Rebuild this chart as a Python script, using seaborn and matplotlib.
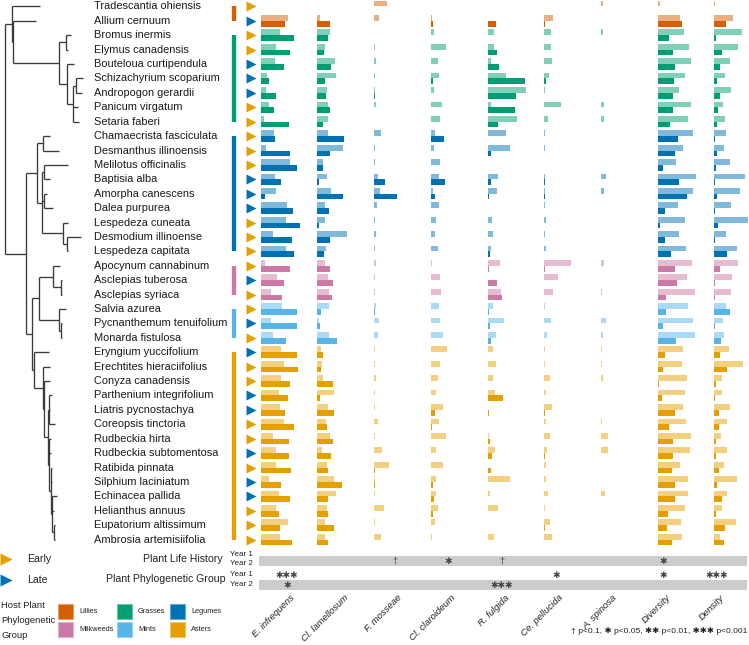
import numpy as np
import pandas as pd
import matplotlib.pyplot as plt
from matplotlib.patches import Rectangle
import seaborn as sns

# Host plants, top to bottom
species = [
    "Tradescantia ohiensis", "Allium cernuum", "Bromus inermis", "Elymus canadensis",
    "Bouteloua curtipendula", "Schizachyrium scoparium", "Andropogon gerardii",
    "Panicum virgatum", "Setaria faberi", "Chamaecrista fasciculata",
    "Desmanthus illinoensis", "Melilotus officinalis", "Baptisia alba",
    "Amorpha canescens", "Dalea purpurea", "Lespedeza cuneata", "Desmodium illinoense",
    "Lespedeza capitata", "Apocynum cannabinum", "Asclepias tuberosa",
    "Asclepias syriaca", "Salvia azurea", "Pycnanthemum tenuifolium",
    "Monarda fistulosa", "Eryngium yuccifolium", "Erechtites hieraciifolius",
    "Conyza canadensis", "Parthenium integrifolium", "Liatris pycnostachya",
    "Coreopsis tinctoria", "Rudbeckia hirta", "Rudbeckia subtomentosa",
    "Ratibida pinnata", "Silphium laciniatum", "Echinacea pallida",
    "Helianthus annuus", "Eupatorium altissimum", "Ambrosia artemisiifolia",
]
plant_group = (["Lillies"] * 2 + ["Grasses"] * 7 + ["Legumes"] * 9
               + ["Milkweeds"] * 3 + ["Mints"] * 3 + ["Asters"] * 14)
life_history = ["Early", "Late", "Early", "Early", "Late", "Late", "Late", "Early",
                "Early", "Early", "Early", "Early", "Late", "Late", "Late", "Early",
                "Early", "Early", "Early", "Late", "Early", "Early", "Late", "Early",
                "Late", "Early", "Early", "Late", "Late", "Early", "Early", "Late",
                "Early", "Late", "Late", "Early", "Early", "Early"]

columns = ["E. infrequens", "Cl. lamellosum", "F. mosseae", "Cl. claroideum",
           "R. fulgida", "Ce. pellucida", "A. spinosa", "Diversity", "Density"]

nan = np.nan
# relative values (Year 1 / Year 2) per host plant
e_infrequens_y1 = [0, 27, 19, 15.3, 14, 6, 5.7, 8.3, 3, 13.3, 5.7, 29, 14.7, 15.3, 26.3, 25.7, 12.3, 25, 4.7,
                   16.7, 10, 21, 10.7, 12.3, 20.7, 23, 20.3, 18, 19.3, 23.7, 12, 15.7, 15, 8, 18, 15, 27, 19]
e_infrequens_y2 = [nan, 24.3, 33, 29, 23, 8, 15.7, 13.7, 28.3, 14.3, 29, 36, 20.3, 4.3, 32.7, 39, 31.7, 33, 29.7,
                   23.7, 21, 36.3, 36.3, 25, 36, 37.7, 29.3, 27.7, 24.7, 33, 28, 28, 30, 20.7, 29.7, 18, 19, 31.7]
cl_lamellosum_y1 = [0, 2.7, 12.3, 7.7, 17.3, 18.7, 9.3, 10.7, 10.3, 10.7, 25.3, 5.7, 9.3, 13.7, 8, 7.3, 29.3, 8.3, 7.3,
                    11, 11.3, 11.7, 1.3, 11.3, 3.7, 5, 6, 17, 10.7, 8.7, 12.3, 5, 9.3, 17, 18.7, 9.7, 8, 7.3]
cl_lamellosum_y2 = [nan, 12.3, 10.3, 7, 14, 7.3, 8.3, 12.7, 6, 26.7, 12.3, 5.3, 1.3, 25.7, 11.3, 1.3, 12.7, 7, 12.3,
                    16, 14.3, 3.3, 3, 19.3, 5.3, 3.3, 16, 3, 16.7, 9.3, 16, 13.7, 10.7, 24.7, 10.3, 10.3, 16.3, 10.3]
f_mosseae_y1 = [13, 5, 0.3, 1.3, 2.3, 1, 0.5, 1.7, 0.3, 6.7, 0.7, 1, 3.7, 6.3, 2.7, 0.7, 1.7, 1.3, 1.7,
                0.7, 0.7, 1.7, 5.3, 4.3, 1.3, 0.7, 1.7, 0.5, 0.5, 4, 0.7, 8, 14.7, 1.3, 0.5, 9.7, 0.5, 6.7]
f_mosseae_y2 = [nan, 0, 0, 0, 0, 0, 1, 0, 0, 0, 0, 0, 11.3, 23, 0, 0, 0, 0, 0,
                0, 0, 0.5, 0, 0, 0, 0, 0, 0, 0, 0, 0, 0, 0.7, 0.5, 0, 0, 0, 0.3]
cl_claroideum_y1 = [0, 1, 3, 15.3, 7.3, 8, 3, 11, 9, 3.7, 2.7, 8.7, 8, 2, 8.3, 5.3, 3.7, 6.7, 1.3,
                    9, 9.7, 8, 8.7, 11.7, 16.3, 9, 7, 5, 11.7, 8.3, 14.7, 4.7, 11.7, 4.7, 4.7, 6.7, 3.7, 1]
cl_claroideum_y2 = [nan, 2.3, 0, 0, 0, 2, 0, 0, 0, 13, 0, 0, 13.7, 4, 0, 0, 0, 0.5, 0.5,
                    0, 0, 0, 0, 0, 0.5, 0, 0, 0, 4.3, 0.7, 0, 0, 0, 2, 2.7, 1.7, 0, 0.3]
r_fulgida_y1 = [0, 0.5, 6.5, 6.2, 3.7, 18.7, 38.7, 3.5, 29.3, 18.3, 22, 0, 10.3, 9.3, 0.3, 4.7, 5.2, 3.3, 12.3,
                0, 13.7, 5.7, 16, 8, 5, 8.7, 5.2, 7.7, 0.7, 0.3, 1, 7.7, 0, 22.7, 2, 10, 0, 6.8]
r_fulgida_y2 = [nan, 8.3, 0, 9.5, 11.7, 37.3, 28, 27.7, 10.7, 0, 3.5, 0, 3.2, 1, 0, 0, 0, 2.7, 1.7,
                9.2, 14.7, 1.3, 2.3, 3.3, 0, 0, 0, 15.3, 1, 0, 2.3, 4.3, 3.5, 0.7, 0.7, 0, 0, 0.7]
ce_pellucida_y1 = [0, 8.7, 7, 6.3, 8, 4.7, 1, 17, 3.7, 0.3, 1, 0, 1, 1, 0.3, 2, 0.7, 1.3, 26.7,
                   14, 8.3, 0.7, 7, 2.7, 1, 1, 5.3, 1.3, 7.7, 1.3, 5.7, 2.7, 1.3, 1.3, 3.7, 0.7, 5.7, 8]
ce_pellucida_y2 = [nan, 0.3, 0, 0, 0, 2, 0, 0, 0, 0, 0, 0, 0.5, 0.5, 0, 0, 0, 0, 0.7,
                   0, 0, 0, 0, 0, 0, 0, 0, 0, 0.5, 0, 0, 0.3, 0, 0, 0, 0, 0.3, 0]
a_spinosa_y1 = [2, 0, 1.7, 0, 0.3, 0, 0.3, 3, 3.3, 0, 0.5, 0, 4.7, 3, 0.3, 0.3, 0, 0.3, 3,
                0, 1, 0, 5, 2, 1.3, 1, 2, 0.3, 0, 0.7, 7, 7, 0, 0, 3.7, 0, 0.3, 0]
a_spinosa_y2 = [nan] + [0] * 37
diversity_y1 = [2, 22.3, 26.3, 31.7, 33.3, 27.3, 21.3, 33.7, 30.3, 35, 25, 18.3, 38.7, 35, 20.7, 27.3, 21.3, 28.7,
                34.7, 29.7, 37, 30.3, 35.7, 37, 25.3, 24.3, 29.7, 27.3, 25.3, 28, 33.7, 32, 22.3, 30, 30.3,
                27.3, 23.3, 24.3]
diversity_y2 = [nan, 24.7, 11, 15.3, 17.3, 16.7, 15, 15.7, 12.7, 20, 17.3, 5.3, 21, 29.7, 7, 2, 7.7, 13.3,
                17, 19.7, 8.3, 8.3, 5.7, 18.3, 7, 5, 1, 4, 17.7, 11, 15.7, 15.3, 14.3, 17.3, 17.7, 10.3, 9.3, 14.7]
density_y1 = [0.3, 18.7, 27.7, 23.7, 15.7, 10.7, 16.7, 8.3, 11, 11.7, 10, 15.7, 31, 25.7, 16.7, 33.7, 11.3, 22.3,
              24, 17.7, 16.7, 12, 8.7, 9.7, 14.7, 28.7, 7.7, 8, 16, 12.3, 6.7, 12.7, 9.7, 23, 12.3, 7.3, 22, 5.7]
density_y2 = [nan, 11.3, 1.3, 8, 6, 3, 6, 3.3, 2.7, 0.7, 3, 1.7, 1, 2.3, 0.7, 3.3, 1, 13, 5.7,
              1, 0.7, 16, 0.7, 7, 5.7, 13, 1.3, 0.3, 5, 4.7, 2, 2, 4.7, 2.7, 8, 1.7, 10.3, 9.3]

year1_values = [e_infrequens_y1, cl_lamellosum_y1, f_mosseae_y1, cl_claroideum_y1, r_fulgida_y1,
                ce_pellucida_y1, a_spinosa_y1, diversity_y1, density_y1]
year2_values = [e_infrequens_y2, cl_lamellosum_y2, f_mosseae_y2, cl_claroideum_y2, r_fulgida_y2,
                ce_pellucida_y2, a_spinosa_y2, diversity_y2, density_y2]

# significance marks per column
sig_life_y1 = ["", "", "", "", "", "", "", "", ""]
sig_life_y2 = ["", "", "†", "✱", "†", "", "", "✱", ""]
sig_phylo_y1 = ["✱✱✱", "", "", "", "", "✱", "", "✱", "✱✱✱"]
sig_phylo_y2 = ["✱", "", "", "", "✱✱✱", "", "", "", ""]

# host phylogeny: (node depth, [children]) or (leaf name, tip depth)
tree = (5, [
    (12, [
        ("Tradescantia ohiensis", 40),
        (13.3, [
            ("Allium cernuum", 36),
            (59.3, [
                (66, [("Bromus inermis", 70.7), ("Elymus canadensis", 68)]),
                (66.7, [
                    ("Bouteloua curtipendula", 74),
                    (73, [
                        (76, [("Schizachyrium scoparium", 83), ("Andropogon gerardii", 82)]),
                        ("Panicum virgatum", 78),
                        ("Setaria faberi", 79.3),
                    ]),
                ]),
            ]),
        ]),
    ]),
    (26, [
        (37.3, [
            (42.7, [("Chamaecrista fasciculata", 50), ("Desmanthus illinoensis", 59.3)]),
            (41.7, [
                (44.3, [("Melilotus officinalis", 68.3), ("Baptisia alba", 50)]),
                (44.3, [("Amorpha canescens", 46.7), ("Dalea purpurea", 53.3)]),
                (63.3, [("Lespedeza cuneata", 68.3),
                        (67, [("Desmodium illinoense", 80.7), ("Lespedeza capitata", 68.3)])]),
            ]),
        ]),
        (31.7, [
            (39.3, [
                (53.3, [("Apocynum cannabinum", 60),
                        (61, [("Asclepias tuberosa", 61.7), ("Asclepias syriaca", 61.7)])]),
                (59.3, [("Salvia azurea", 65.7),
                        (61.3, [("Pycnanthemum tenuifolium", 62), ("Monarda fistulosa", 62)])]),
            ]),
            (34, [
                ("Eryngium yuccifolium", 49.3),
                (43.3, [
                    ("Erechtites hieraciifolius", 50),
                    (43.7, [
                        ("Conyza canadensis", 50),
                        (47.5, [
                            (48.5, [("Parthenium integrifolium", 51.5), ("Liatris pycnostachya", 49.5),
                                    ("Coreopsis tinctoria", 55)]),
                            (49, [("Rudbeckia hirta", 50.5), ("Rudbeckia subtomentosa", 50.5),
                                  (50.5, [("Ratibida pinnata", 51.5), ("Silphium laciniatum", 51.5),
                                          (51.5, [("Echinacea pallida", 57), ("Helianthus annuus", 53.5),
                                                  (53.5, [("Eupatorium altissimum", 55),
                                                          ("Ambrosia artemisiifolia", 55)])])])]),
                        ]),
                    ]),
                ]),
            ]),
        ]),
    ]),
])

group_colors = {"Lillies": "#D55E00", "Grasses": "#009E73", "Legumes": "#0072B2",
                "Milkweeds": "#CC79A7", "Mints": "#56B4E9", "Asters": "#E69F00"}
timing_colors = {"Early": "#E69F00", "Late": "#0072B2"}


def lighten(c, f=0.5):
    rgb = np.array(plt.matplotlib.colors.to_rgb(c))
    return tuple(rgb * (1 - f) + f)


# long table
rows = []
for col, v1, v2 in zip(columns, year1_values, year2_values):
    for i, sp in enumerate(species):
        rows.append((col, sp, "Year 1", v1[i]))
        rows.append((col, sp, "Year 2", v2[i]))
df = pd.DataFrame(rows, columns=["column", "species", "year", "value"]).dropna()

sns.set_theme(style="white")
plt.rcParams["font.family"] = ["Liberation Sans", "DejaVu Sans"]

W, H = 749, 645
fig = plt.figure(figsize=(W / 100, H / 100), dpi=100)

# vertical layout in pixels
row0, pitch = 6.4, 14.41
n = len(species)
ax_top = row0 - pitch / 2
ax_h = n * pitch
ax_bottom = H - (ax_top + ax_h)


def px_axes(x, w):
    return fig.add_axes([x / W, ax_bottom / H, w / W, ax_h / H])


# bar columns
for j, col in enumerate(columns):
    ax = px_axes(260.7 + 56.7 * j, 50)
    sns.barplot(data=df[df["column"] == col], x="value", y="species", hue="year",
                order=species, hue_order=["Year 1", "Year 2"], orient="h",
                width=0.8, errorbar=None, legend=False, linewidth=0,
                saturation=1, ax=ax)
    for p in ax.patches:
        yc = p.get_y() + p.get_height() / 2
        i = int(round(yc))
        c = group_colors[plant_group[i]]
        p.set_facecolor(lighten(c) if yc < i else c)
        p.set_edgecolor("none")
    ax.set_xlim(0, 50)
    ax.set_ylim(n - 0.5, -0.5)
    ax.axis("off")

# tree, names, groups, timing
axl = px_axes(0, 258)
axl.set_xlim(0, 258)
axl.set_ylim(n - 0.5, -0.5)
axl.axis("off")

line_kw = dict(color="#3a3a3a", lw=0.95, solid_capstyle="butt")


def draw_node(node, parent_x=None):
    if isinstance(node[0], str):
        name, tip = node
        y = species.index(name)
        axl.plot([parent_x, tip], [y, y], **line_kw)
        return y
    x, children = node
    ys = [draw_node(c, x) for c in children]
    axl.plot([x, x], [min(ys), max(ys)], **line_kw)
    y = (min(ys) + max(ys)) / 2
    if parent_x is not None:
        axl.plot([parent_x, x], [y, y], **line_kw)
    return y


draw_node(tree)

for i, sp in enumerate(species):
    axl.text(94, i, sp, va="center", ha="left", fontsize=7.9, color="#1a1a1a")
    axl.plot(250.5, i, marker=">", ms=6.5, color=timing_colors[life_history[i]], mec="none")

for g, c in group_colors.items():
    idx = [i for i, pg in enumerate(plant_group) if pg == g]
    axl.plot([233.8, 233.8], [min(idx), max(idx)], color=c, lw=3.1, solid_capstyle="butt")

# overlay in pixel coordinates for the lower panel
ov = fig.add_axes([0, 0, 1, 1])
ov.set_xlim(0, W)
ov.set_ylim(H, 0)
ov.axis("off")
ov.patch.set_visible(False)

for y0 in [556, 580]:
    ov.add_patch(Rectangle((258.7, y0), 747 - 258.7, 10, color="#cccccc", lw=0))

for y, t in [(554, "Year 1"), (563.5, "Year 2"), (575, "Year 1"), (584.5, "Year 2")]:
    ov.text(230, y, t, fontsize=5.8, va="center", ha="left", color="#222222")
ov.text(222.7, 558.5, "Plant Life History", fontsize=7.6, ha="right", va="center", color="#222222")
ov.text(225, 578.5, "Plant Phylogenetic Group", fontsize=7.6, ha="right", va="center", color="#222222")

label_x = [290 + 53.75 * j for j in range(len(columns))]
for marks, y in [(sig_life_y1, 553), (sig_life_y2, 561.5), (sig_phylo_y1, 575), (sig_phylo_y2, 585)]:
    for x, m in zip(label_x, marks):
        if m:
            ov.text(x - 3, y, m, fontsize=6.5, ha="center", va="center", color="#444444")

for x, col in zip(label_x, columns):
    ov.text(x, 593, col, rotation=45, rotation_mode="anchor", ha="right", va="top",
            fontsize=6.8, style="italic", color="#222222")

ov.text(747, 631, "† p<0.1, ✱ p<0.05, ✱✱ p<0.01, ✱✱✱ p<0.001", fontsize=6.1,
        ha="right", va="center", color="#222222")

# legends
for y, t in [(559, "Early"), (580, "Late")]:
    ov.plot(5.5, y, marker=">", ms=8, color=timing_colors[t], mec="none")
    ov.text(26.7, y, t, fontsize=7.6, va="center", ha="left", color="#222222")

for y, t in [(606, "Host Plant"), (620.7, "Phylogenetic"), (635, "Group")]:
    ov.text(1, y, t, fontsize=6.8, va="center", ha="left", color="#222222")

legend_pos = {"Lillies": (58, 604), "Grasses": (117, 604), "Legumes": (170, 604),
              "Milkweeds": (58, 622), "Mints": (117, 622), "Asters": (170, 622)}
for g, (x, y) in legend_pos.items():
    c = group_colors[g]
    ov.add_patch(Rectangle((x, y), 15, 15, facecolor=c, edgecolor=lighten(c, 0.4), lw=0.8))
    ov.text(x + 21, y + 7.5, g, fontsize=5.3, va="center", ha="left", color="#222222")

plt.savefig("out.png", dpi=100)
